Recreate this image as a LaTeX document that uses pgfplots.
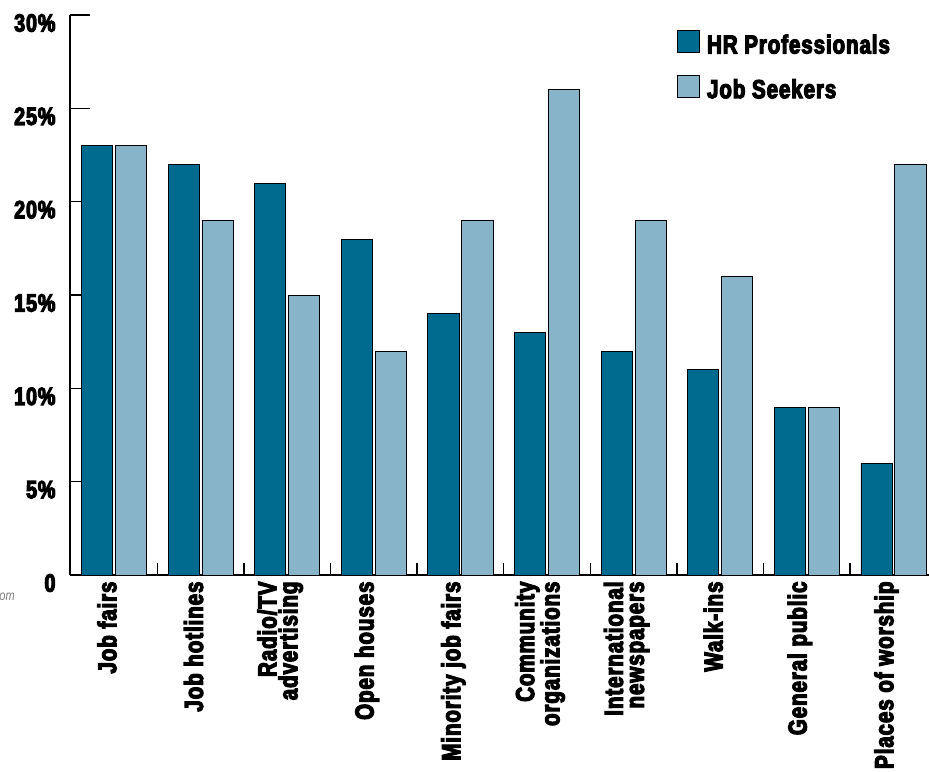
\documentclass[border=0pt]{standalone}
\usepackage{pgfplots}
\pgfplotsset{compat=1.18}
\usepackage{fontspec}
\setmainfont{Liberation Sans}[FakeStretch=0.79, BoldFeatures={FakeBold=4.5, LetterSpace=3.5}]
\definecolor{hrc}{HTML}{006B8E}
\definecolor{jsc}{HTML}{87B4C8}
\begin{document}
\begin{tikzpicture}
\path[use as bounding box] (-70pt,-197pt) rectangle (859pt,575pt);
\begin{axis}[
  scale only axis, width=859pt, height=560pt,
  xmin=-0.508, xmax=9.41, ymin=0, ymax=30,
  axis x line*=bottom, axis y line*=left,
  axis line style={line width=1.5pt, -},
  tick align=inside,
  major tick length=20pt,
  minor tick length=12pt,
  ytick={0,5,...,30},
  yticklabels={0,5\%,10\%,15\%,20\%,25\%,30\%},
  ytick style={line width=1.5pt, black},
  xtick={0,...,9},
  xticklabels={Job fairs, Job hotlines, {Radio/TV\\advertising}, Open houses, Minority job fairs, {Community\\organizations}, {International\\newspapers}, Walk-ins, General public, Places of worship},
  major x tick style={draw=none},
  minor xtick={0.5,1.5,...,8.5},
  minor x tick style={line width=1.5pt, black},
  xticklabel style={rotate=90, anchor=east, align=right, font=\fontsize{26}{21}\selectfont\bfseries, xshift=-3pt, yshift=7pt},
  yticklabel style={font=\fontsize{25}{25}\selectfont\bfseries, yshift=-8pt, xshift=-11pt},
  legend style={at={(0.7066,0.973)}, anchor=north west, draw=none, fill=none, inner sep=0pt, row sep=18pt, font=\fontsize{26}{26}\selectfont\bfseries, cells={anchor=west}},
  sqleg/.style={legend image code/.code={\draw[##1, line width=1pt] (0pt,-8pt) rectangle (22pt,14pt); \path (27pt,0pt);}},
]
\addplot[ybar, bar width=0.36, bar shift=-0.196, fill=hrc, draw=black, line width=0.8pt, sqleg] coordinates {
(0,23) (1,22) (2,21) (3,18) (4,14) (5,13) (6,12) (7,11) (8,9) (9,6)};
\addplot[ybar, bar width=0.36, bar shift=0.196, fill=jsc, draw=black, line width=0.8pt, sqleg] coordinates {
(0,23) (1,19) (2,15) (3,12) (4,19) (5,26) (6,19) (7,16) (8,9) (9,22)};
\legend{HR Professionals, Job Seekers}
\end{axis}
\node[anchor=base east, text=gray, font=\fontsize{14}{14}\selectfont\itshape, inner sep=0pt] at (-55pt,-25pt) {om};
\end{tikzpicture}
\end{document}
